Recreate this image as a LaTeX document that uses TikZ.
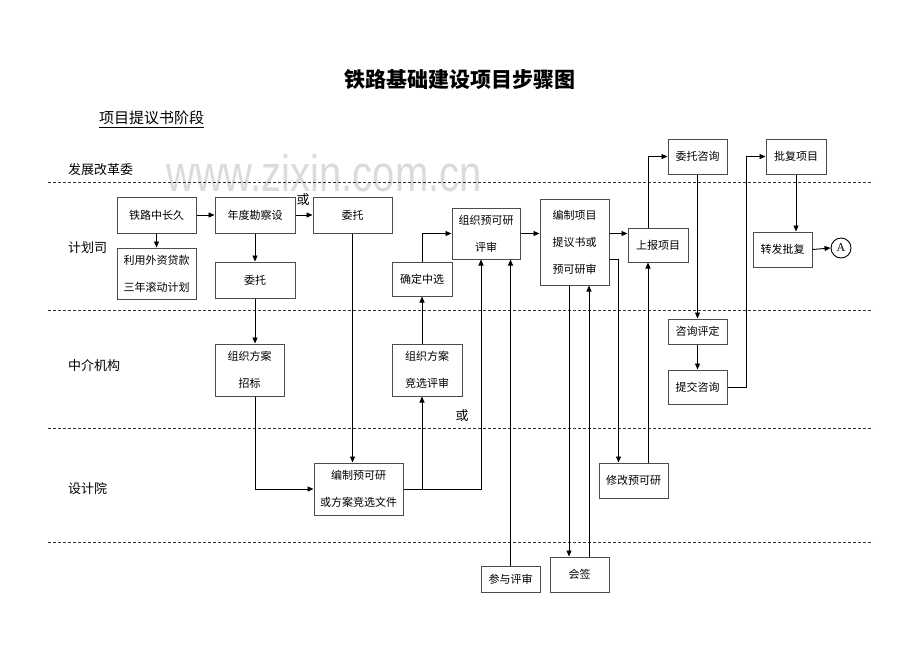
\documentclass[tikz,border=0pt]{standalone}
\usepackage{fontspec}
\setmainfont{Liberation Serif}
\newfontfamily\cjk{Noto Sans CJK SC}
\newfontfamily\wmfont{Liberation Sans}
\usetikzlibrary{arrows.meta,calc}
\begin{document}
\begin{tikzpicture}[x=1pt,y=-1pt,
  bx/.style={draw=black!70,line width=1pt,fill=white,align=center,inner sep=2pt,font=\cjk\fontsize{11}{27}\selectfont},
  arr/.style={draw=black,line width=0.9pt,-{Triangle[length=6pt,width=5pt]}},
  ln/.style={draw=black,line width=0.9pt},
  lane/.style={draw=black!80,line width=0.8pt,dash pattern=on 3pt off 2pt},
  lbl/.style={font=\cjk\fontsize{13}{13}\selectfont,anchor=west,inner sep=0pt},
  orlbl/.style={font=\cjk\fontsize{13}{13}\selectfont,inner sep=0pt},
]
\useasboundingbox[fill=white] (0,0) rectangle (920,651);
% watermark
\node[font=\wmfont\fontsize{40}{40}\selectfont,text=black!14,anchor=base,inner sep=0pt,text depth=0pt] (wm) at (324,191) {\scalebox{1}[1.28]{www.zixin.com.cn}};
% title
\node[font=\cjk\bfseries\fontsize{21}{21}\selectfont] (title) at (460,80) {铁路基础建设项目步骤图};
\node[font=\cjk\fontsize{15}{15}\selectfont,anchor=west,inner sep=0pt] (sub) at (99,118) {项目提议书阶段};
\draw[line width=0.7pt] ([yshift=-2pt]sub.south west) -- ([yshift=-2pt]sub.south east);
% lanes
\draw[lane] (48,182) -- (873,182);
\draw[lane] (48,310) -- (873,310);
\draw[lane] (48,428) -- (873,428);
\draw[lane] (48,542) -- (873,542);
\node[lbl] (l1) at (68,170) {发展改革委};
\node[lbl] (l2) at (68,248) {计划司};
\node[lbl] (l3) at (68,366) {中介机构};
\node[lbl] (l4) at (68,489) {设计院};
% boxes
\node[bx,minimum width=79pt,minimum height=36pt] (a1) at (156.5,215) {铁路中长久};
\node[bx,minimum width=79pt,minimum height=51pt] (a2) at (156.5,273.5) {利用外资贷款\\三年滚动计划};
\node[bx,minimum width=80pt,minimum height=36pt] (a3) at (255,215) {年度勘察设};
\node[bx,minimum width=80pt,minimum height=36pt] (a4) at (255,280) {委托};
\node[bx,minimum width=79pt,minimum height=36pt] (a5) at (352.5,215) {委托};
\node[bx,minimum width=60pt,minimum height=34pt] (b1) at (422,279) {确定中选};
\node[bx,minimum width=68pt,minimum height=51pt] (b2) at (486,233.5) {组织预可研\\评审};
\node[bx,minimum width=69pt,minimum height=86pt] (b3) at (574.5,242) {编制项目\\提议书或\\预可研审};
\node[bx,minimum width=60pt,minimum height=34pt] (b4) at (658,245) {上报项目};
\node[bx,minimum width=59pt,minimum height=35pt] (b5) at (697.5,156.5) {委托咨询};
\node[bx,minimum width=60pt,minimum height=35pt] (b6) at (796,156.5) {批复项目};
\node[bx,minimum width=59pt,minimum height=35pt] (b7) at (782.5,249.5) {转发批复};
\node[draw=black,line width=0.9pt,circle,minimum size=20pt,inner sep=0pt,font=\fontsize{12}{12}\selectfont] (A) at (841,248) {A};
\node[bx,minimum width=59pt,minimum height=25pt] (c1) at (697.5,331.5) {咨询评定};
\node[bx,minimum width=59pt,minimum height=34pt] (c2) at (697.5,387) {提交咨询};
\node[bx,minimum width=69pt,minimum height=52pt] (c3) at (249.5,370) {组织方案\\招标};
\node[bx,minimum width=70pt,minimum height=52pt] (c4) at (427,370) {组织方案\\竞选评审};
\node[bx,minimum width=89pt,minimum height=52pt] (d1) at (358.5,489) {编制预可研\\或方案竞选文件};
\node[bx,minimum width=69pt,minimum height=35pt] (d2) at (633.5,480.5) {修改预可研};
\node[bx,minimum width=59pt,minimum height=26pt] (e1) at (510.5,579) {参与评审};
\node[bx,minimum width=59pt,minimum height=35pt] (e2) at (579.5,574.5) {会签};
% or labels
\node[orlbl] (or1) at (303,200) {或};
\node[orlbl] (or2) at (462,416) {或};
% connectors
\draw[arr] (a1.east) -- (a3.west);
\draw[arr] (a3.east) -- (a5.west);
\draw[arr] (a1.south) -- (a2.north);
\draw[arr] (a3.south) -- (a4.north);
\draw[arr] (a4.south) -- (a4.south |- c3.north);
\draw[arr] (a4.south |- c3.south) |- (d1.west);
\draw[arr] (a5.south) -- (a5.south |- d1.north);
\draw[arr] (d1.east) -| ([xshift=-5pt]b2.south);
\draw[arr] (b1.south |- d1.east) -- (b1.south |- c4.south);
\draw[arr] (b1.south |- c4.north) -- (b1.south);
\draw[arr] (b1.north) |- (b2.west);
\draw[arr] (b2.east) -- (b2.east -| b3.west);
\draw[arr] (b2.east -| b3.east) -- (b2.east -| b4.west);
\draw[arr] ([xshift=-10pt]b4.north) |- (b5.west);
\draw[arr] (b5.south) -- (c1.north);
\draw[arr] (c1.south) -- (c2.north);
\draw[arr] (c2.east) -- ++(19,0) |- (b6.west);
\draw[arr] (b6.south) -- (b6.south |- b7.north);
\draw[arr] (b7.east) -- (A.west);
\draw[arr] ([xshift=-5.5pt]b3.south) -- ([xshift=-5.5pt]b3.south |- e2.north);
\draw[arr] ([xshift=14.5pt]b3.south |- e2.north) -- ([xshift=14.5pt]b3.south);
\draw[arr] ([yshift=-17pt]b3.east) -| ([xshift=-15pt]d2.north);
\draw[arr] ([xshift=14.5pt]d2.north) -- ([xshift=-10pt]b4.south);
\draw[arr] (e1.north) -- (e1.north |- b2.south);
\end{tikzpicture}
\end{document}
